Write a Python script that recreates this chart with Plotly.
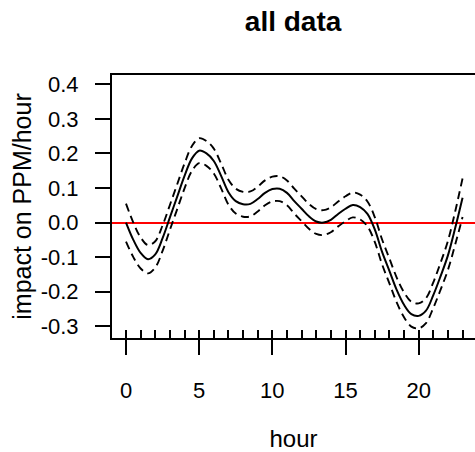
import plotly.graph_objects as go

# hours (half-hour grid of the smooth fit)
hours = [i * 0.5 for i in range(47)]
fit = [0.000, -0.050, -0.088, -0.106, -0.092, -0.045, 0.015, 0.075, 0.135, 0.185,
       0.208, 0.200, 0.178, 0.135, 0.088, 0.062, 0.053, 0.054, 0.068, 0.086,
       0.097, 0.098, 0.086, 0.062, 0.040, 0.018, 0.003, 0.000, 0.008, 0.025,
       0.040, 0.051, 0.045, 0.025, -0.020, -0.085, -0.140, -0.195, -0.238, -0.265,
       -0.270, -0.255, -0.210, -0.155, -0.095, -0.015, 0.072]
upper = [0.055, 0.000, -0.043, -0.065, -0.054, -0.008, 0.051, 0.111, 0.171, 0.221,
         0.244, 0.236, 0.214, 0.171, 0.124, 0.098, 0.089, 0.090, 0.104, 0.122,
         0.133, 0.134, 0.122, 0.098, 0.076, 0.054, 0.039, 0.036, 0.044, 0.061,
         0.076, 0.087, 0.081, 0.061, 0.016, -0.049, -0.104, -0.159, -0.202, -0.229,
         -0.234, -0.219, -0.173, -0.116, -0.053, 0.033, 0.128]
lower = [-0.055, -0.100, -0.133, -0.147, -0.130, -0.082, -0.021, 0.039, 0.099, 0.149,
         0.172, 0.164, 0.142, 0.099, 0.052, 0.026, 0.017, 0.018, 0.032, 0.050,
         0.061, 0.062, 0.050, 0.026, 0.004, -0.018, -0.033, -0.036, -0.028, -0.011,
         0.004, 0.015, 0.009, -0.011, -0.056, -0.121, -0.176, -0.231, -0.274, -0.301,
         -0.306, -0.291, -0.247, -0.194, -0.137, -0.063, 0.016]
rug_hours = list(range(24))
x_ticks = [0, 5, 10, 15, 20]
y_ticks = [0.4, 0.3, 0.2, 0.1, 0.0, -0.1, -0.2, -0.3]
y_labels = ["0.4", "0.3", "0.2", "0.1", "0.0", "-0.1", "-0.2", "-0.3"]

FONT = "Liberation Sans, Arial, sans-serif"
xr = [-0.957, 23.85]

fig = go.Figure()
fig.add_trace(go.Scatter(x=hours, y=upper, mode="lines", line=dict(color="black", width=1.9, dash="8px,5px", shape="spline"), hoverinfo="skip"))
fig.add_trace(go.Scatter(x=hours, y=lower, mode="lines", line=dict(color="black", width=1.9, dash="8px,5px", shape="spline"), hoverinfo="skip"))
fig.add_trace(go.Scatter(x=hours, y=fit, mode="lines", line=dict(color="black", width=2, shape="spline")))
# rug trace on overlay axis (no visible points; the axis ticks draw the rug)
fig.add_trace(go.Scatter(x=rug_hours, y=[None] * len(rug_hours), xaxis="x2", mode="lines", showlegend=False))

fig.update_layout(
    width=475, height=452,
    margin=dict(l=112, r=0, t=75, b=114, autoexpand=False),
    paper_bgcolor="white", plot_bgcolor="white",
    showlegend=False,
    font=dict(family=FONT, color="black"),
    title=dict(text="<b>all data</b>", font=dict(size=28, family=FONT, color="black"),
               x=0.617, xanchor="center", y=1 - 31 / 452, yanchor="bottom", yref="container"),
    xaxis=dict(range=xr, tickmode="array", tickvals=x_ticks, ticktext=[str(v) for v in x_ticks],
               ticks="outside", ticklen=15, tickwidth=2, tickcolor="black",
               showline=True, linecolor="black", linewidth=2, mirror=True,
               showgrid=False, zeroline=False, automargin=False,
               tickfont=dict(size=22, family=FONT), ticklabelstandoff=17,
               title=dict(text="hour", font=dict(size=24, family=FONT), standoff=28)),
    xaxis2=dict(range=xr, overlaying="x", anchor="y", side="bottom",
                tickmode="array", tickvals=rug_hours, ticks="inside", ticklen=8, tickwidth=2,
                tickcolor="black", showticklabels=False, showgrid=False, zeroline=False,
                showline=False, automargin=False),
    yaxis=dict(range=[-0.334, 0.427], tickmode="array", tickvals=y_ticks, ticktext=y_labels,
               ticks="outside", ticklen=15, tickwidth=2, tickcolor="black",
               showline=True, linecolor="black", linewidth=2, mirror=False,
               showgrid=False, zeroline=True, zerolinecolor="#ff0000", zerolinewidth=2,
               automargin=False,
               tickfont=dict(size=22, family=FONT), ticklabelstandoff=12,
               title=dict(text="impact on PPM/hour", font=dict(size=25, family=FONT), standoff=2)),
)

fig.write_html("out.html", config={"displayModeBar": False},
               post_script="document.body.style.margin='0';document.body.style.overflow='hidden';")
